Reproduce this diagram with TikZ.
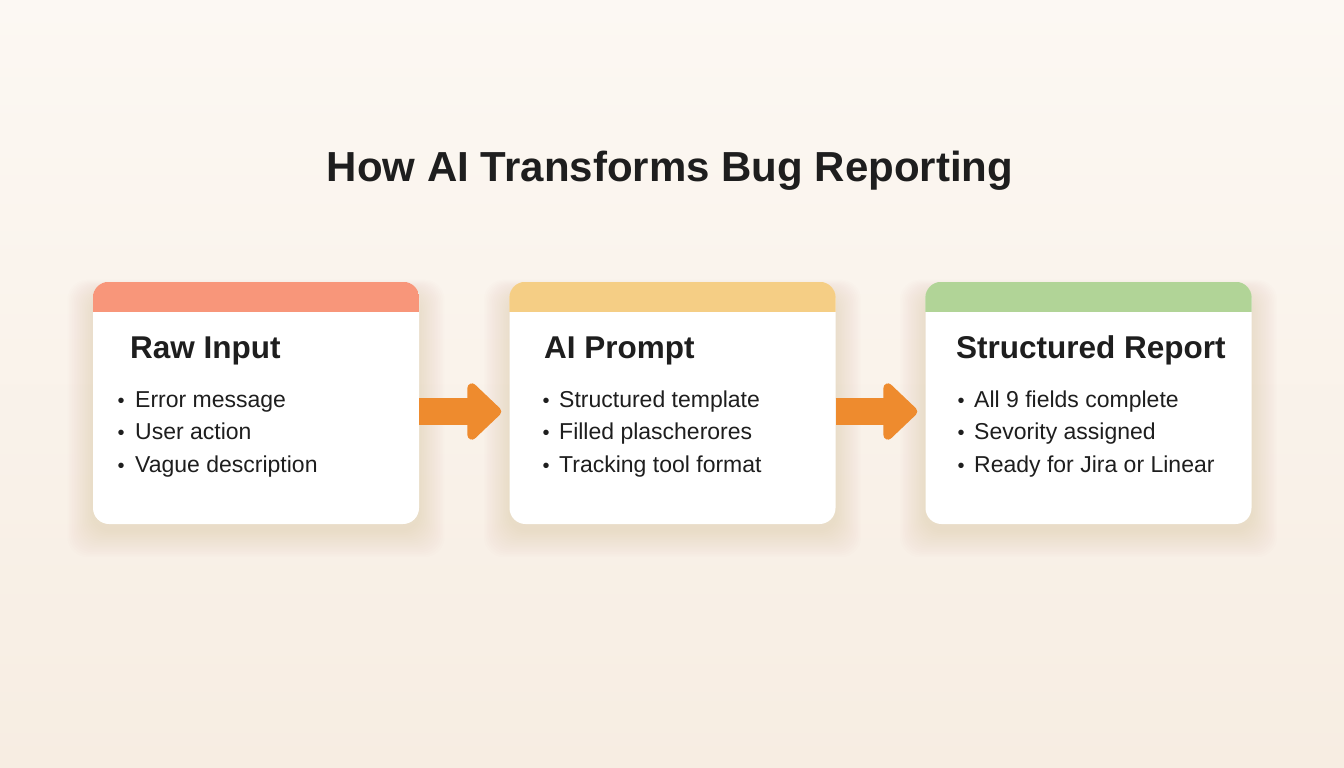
\documentclass[tikz,border=0pt]{standalone}
\usepackage{fontspec}
\setmainfont{Liberation Sans}
\usetikzlibrary{arrows.meta}
\definecolor{bgtop}{HTML}{FCF8F3}
\definecolor{bgbot}{HTML}{F7EDE2}
\definecolor{hdrA}{HTML}{F8967A}
\definecolor{hdrB}{HTML}{F5CE85}
\definecolor{hdrC}{HTML}{B1D497}
\definecolor{arr}{HTML}{EE8B2E}
\definecolor{ink}{HTML}{1E1E1E}
\definecolor{shadow}{HTML}{8A6A4A}
\tikzset{
  card/.style={rectangle, rounded corners=16pt, fill=white, minimum width=326pt, minimum height=242pt, inner sep=0pt},
  heading/.style={anchor=base west, inner sep=0pt, font=\fontsize{31.5}{36}\selectfont\bfseries, text=ink},
  bullet/.style={anchor=base west, inner sep=0pt, font=\fontsize{23}{27}\selectfont, text=ink},
  dot/.style={anchor=base, inner sep=0pt, font=\fontsize{20}{24}\selectfont, text=ink},
  flow/.style={draw=arr, line width=27pt, -{Triangle[round, length=36pt, width=66pt]}, shorten >=8pt},
}
\begin{document}
\begin{tikzpicture}[x=1pt,y=-1pt]
\useasboundingbox (0,0) rectangle (1344,768);
\shade[top color=bgtop, bottom color=bgbot] (0,0) rectangle (1344,768);
% shadows
\foreach \cx in {256,672.5,1088.5}{
  \foreach \i in {1,...,16}{
    \fill[shadow, opacity=0.008, rounded corners=20pt]
      ({\cx-163-\i*1.6},{282+12-\i*0.9}) rectangle ({\cx+163+\i*1.6},{524+6+\i*1.7});
  }
}
% cards
\node[card] (c1) at (256,403) {};
\node[card] (c2) at (672.5,403) {};
\node[card] (c3) at (1088.5,403) {};
% headers
\foreach \n/\col in {c1/hdrA,c2/hdrB,c3/hdrC}{
  \begin{scope}
    \clip[rounded corners=16pt] (\n.south west) rectangle (\n.north east);
    \fill[\col] (\n.north west) rectangle ([yshift=-30pt]\n.north east);
  \end{scope}
}
% title
\node[inner sep=0pt, anchor=base, font=\fontsize{42}{48}\selectfont\bfseries, text=ink] (title) at (670,181) {How AI Transforms Bug Reporting};
% card 1
\node[heading] (h1) at (130,358) {Raw Input};
\foreach \y/\t [count=\k] in {407/Error message,439/User action,472/Vague description}{
  \node[dot] (d1\k) at (121,\y) {•};
  \node[bullet] (b1\k) at (135,\y) {\t};
}
% card 2
\node[heading] (h2) at (544,358) {AI Prompt};
\foreach \y/\t [count=\k] in {407/Structured template,439/Filled plascherores,472/Tracking tool format}{
  \node[dot] (d2\k) at (546,\y) {•};
  \node[bullet] (b2\k) at (559,\y) {\t};
}
% card 3
\node[heading] (h3) at (956,358) {Structured Report};
\foreach \y/\t [count=\k] in {407/All 9 fields complete,439/Sevority assigned,472/Ready for Jira or Linear}{
  \node[dot] (d3\k) at (961,\y) {•};
  \node[bullet] (b3\k) at (974,\y) {\t};
}
% arrows
\draw[flow] ([yshift=-8.5pt]c1.east) -- ([yshift=-8.5pt]c2.west);
\draw[flow] ([yshift=-8.5pt]c2.east) -- ([yshift=-8.5pt]c3.west);
\end{tikzpicture}
\end{document}
